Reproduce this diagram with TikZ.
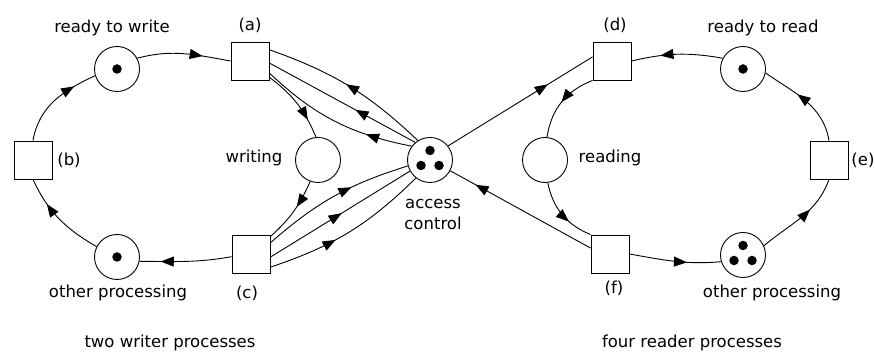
\documentclass[tikz,border=0pt]{standalone}
\usepackage{fontspec}
\setmainfont{DejaVu Sans}
\usetikzlibrary{arrows.meta,decorations.markings}

\tikzset{
  plaza/.style={draw, circle, minimum size=45pt, inner sep=0pt},
  transicion/.style={draw, minimum size=38pt, inner sep=0pt},
  ficha/.style={circle, fill, minimum size=9.5pt, inner sep=0pt},
  punta/.tip={Triangle[length=13pt,width=10pt]},
  arco/.style={postaction={decorate}, decoration={markings, mark=at position #1 with {\arrow{punta}}}},
  arco/.default=0.6
}

\begin{document}
\begin{tikzpicture}[x=1pt, y=1pt, line width=0.9pt, font=\fontsize{16.5}{19}\selectfont]
        \useasboundingbox (0,0) rectangle (875,355);
        % Escritores
        \node[plaza] (rw) at (117,286) {};
        \node[transicion] (a) at (250,294) {};
        \node[transicion] (b) at (33,195) {};
        \node[plaza] (wr) at (318,195) {};
        \node[plaza] (op1) at (117,98) {};
        \node[transicion] (c) at (251,101) {};
        % Control de acceso
        \node[plaza] (ac) at (430,195) {};
        % Lectores
        \node[transicion] (d) at (612,294) {};
        \node[plaza] (rr) at (743,286) {};
        \node[transicion] (e) at (829,195) {};
        \node[plaza] (rd) at (545,195) {};
        \node[transicion] (f) at (610,101) {};
        \node[plaza] (op2) at (743,100) {};
        % Fichas
        \node[ficha] (trw) at (rw) {};
        \node[ficha] (top1) at (op1) {};
        \node[ficha] (trr) at (rr) {};
        \foreach \dx/\dy [count=\i] in {0/9.5, -9/-5.5, 9/-5.5} {
            \node[ficha] (tac\i) at ([shift={(\dx,\dy)}]ac.center) {};
            \node[ficha] (top\i) at ([shift={(\dx,\dy)}]op2.center) {};
        }
        % Etiquetas
        \node (lrw) at (112,327) {ready to write};
        \node (la) at (250,330) {(a)};
        \node (lb) at (69,195) {(b)};
        \node (lwr) at (254,197) {writing};
        \node (lop1) at (118,62) {other processing};
        \node (lc) at (247,62) {(c)};
        \node[align=center] (lac) at (433,140) {access\\[2pt]control};
        \node (ld) at (615,330) {(d)};
        \node (lrr) at (763,327) {ready to read};
        \node (le) at (863,195) {(e)};
        \node (lrd) at (610,197) {reading};
        \node (lf) at (614,67) {(f)};
        \node (lop2) at (772,62) {other processing};
        \node (lesc) at (170,12) {two writer processes};
        \node (llec) at (692,12) {four reader processes};
        % Arcos de los escritores
        \draw[arco=0.75] (b.north) to[out=80, in=205] (rw.197);
        \draw[arco=0.7] (rw.28) to[out=15, in=170] (a.west);
        \draw[arco=0.75] (a.-40) to[bend left=15] (wr.95);
        \draw[arco=0.42] (wr.250) to[bend left=12] (c.42);
        \draw[arco=0.77] (c.188) to[out=190, in=0] (op1.-11);
        \draw[arco=0.7] (op1.153) to[out=150, in=-65] (b.south);
        % Arcos del control de acceso
        \draw[arco=0.52] (ac.122) to[bend right=12] (a.30);
        \draw[arco=0.41] (ac.130) -- (a.-6);
        \draw[arco=0.29] (ac.143) to[bend left=16] (a.-32);
        \draw[arco=0.62] (c.30) to[bend left=12] (ac.195);
        \draw[arco=0.51] (c.-9) -- (ac.209);
        \draw[arco=0.41] (c.-34) to[bend right=13] (ac.232);
        % Arcos de los lectores
        \draw[arco=0.68] (rr.152) to[out=170, in=13] (d.east);
        \draw[arco=0.69] (ac.38) -- (d.168);
        \draw[arco=0.5] (d.225) to[bend right=30] (rd.85);
        \draw[arco=0.64] (rd.277) to[bend right=28] (f.135);
        \draw[arco=0.82] (f.163) -- (ac.332);
        \draw[arco=0.63] (f.east) to[out=-10, in=185] (op2.197);
        \draw[arco=0.62] (op2.24) to[out=40, in=-110] (e.south);
        \draw[arco=0.6] (e.north) to[out=100, in=-35] (rr.-10);
\end{tikzpicture}
\end{document}
